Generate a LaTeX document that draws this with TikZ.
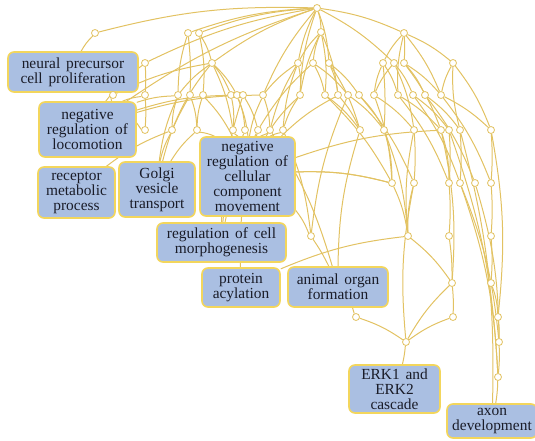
\documentclass[tikz,border=0pt]{standalone}
\usepackage{fontspec}
\setmainfont{Liberation Serif}[WordSpace=1.5]
\definecolor{edgecol}{RGB}{226,194,98}
\definecolor{boxfill}{RGB}{170,191,226}
\definecolor{boxline}{RGB}{243,214,92}
\definecolor{termtext}{RGB}{26,28,40}
\pgfdeclarelayer{edges}
\pgfsetlayers{edges,main}
\tikzset{
  dot/.style={circle, draw=edgecol, fill=white, inner sep=0pt, minimum size=7pt, line width=0.8pt},
  term/.style={draw=boxline, fill=boxfill, rounded corners=6pt, line width=1.6pt,
    align=center, inner sep=0pt, text=termtext,
    font=\fontsize{15.4pt}{14.9pt}\selectfont},
  link/.style={draw=edgecol, line width=1pt},
}
\begin{document}
\begin{tikzpicture}[x=1pt, y=-1pt]
\useasboundingbox (0,0) rectangle (535,441);

% GO term boxes
\node[term, minimum width=130pt, minimum height=40pt] (npc)   at (73,72)    {neural precursor\\cell proliferation};
\node[term, minimum width=97pt,  minimum height=55pt] (loc)   at (87.5,129.5) {negative\\regulation of\\locomotion};
\node[term, minimum width=77pt,  minimum height=51pt] (rmp)   at (76.5,192.5) {receptor\\metabolic\\process};
\node[term, minimum width=76pt,  minimum height=55pt] (golgi) at (157,189.5) {Golgi\\vesicle\\transport};
\node[term, minimum width=95pt,  minimum height=79pt] (nrccm) at (247.5,176.5) {negative\\regulation of\\cellular\\component\\movement};
\node[term, minimum width=129pt, minimum height=39pt] (rcm)   at (221.5,242.5) {regulation of cell\\morphogenesis};
\node[term, minimum width=78pt,  minimum height=39pt] (pa)    at (241,287.5) {protein\\acylation};
\node[term, minimum width=100pt, minimum height=40pt] (aof)   at (338,287)  {animal organ\\formation};
\node[term, minimum width=91pt,  minimum height=48pt] (erk)   at (394.5,389) {ERK1 and\\ERK2\\cascade};
\node[term, minimum width=90pt,  minimum height=34pt] (axon)  at (492,421)  {axon\\development};

% intermediate terms
\foreach \n/\x/\y in {
  r/317/8,
  a1/95/33, a2/188/33, a3/199/33, a4/321/32, a5/404/33,
  b1/145/63, b2/212/63, b3/298/63, b4/313/63, b5/329/63, b6/383/63, b7/394/63, b8/404/63, b9/453/63,
  c1/113/95, c2/145/95, c3/178/95, c4/190/95, c5/203/95, c6/231/95, c7/237/95, c8/243/95, c9/263/95,
  c10/300/95, c11/325/95, c12/338/95, c13/348/95, c14/359/95, c15/374/95, c16/398/95, c17/413/95,
  c18/425/95, c19/441/95,
  d1/145/130, d2/172/130, d3/197/130, d4/233/130, d5/245/130, d6/258/130, d7/270/130, d8/283/130,
  d9/360/130, d10/384/130, d11/414/130, d12/441/130, d13/449/130, d14/460/130, d15/491/130,
  e1/392/183, e2/414/183, e3/449/183, e4/460/183, e5/475/183, e6/491/183,
  f1/311/236, f2/408/236, f3/449/236, f4/491/236,
  g1/452/283, g2/491/283,
  h1/356/317, h2/453/317, h3/498/317, h4/499/342, h5/406/342, h6/498/377}
  \node[dot] (\n) at (\x,\y) {};

\begin{pgfonlayer}{edges}
% links running down to the left
\foreach \u/\v in {
  r/a1, r/a2, r/a3, r/b1, r/b2, r/b3, r/c9, r/c10, r/loc,
  a1/npc, a2/c3, a4/b3, a4/b4, a4/c10, a5/b6, a5/c16,
  b1/loc, b2/c3, b2/d2, b2/c1, b3/c9, b3/d7, b3/d8, b4/d6, b6/c15, b7/c15, b9/c19, b9/d14,
  c2/loc, c3/loc, c3/d2, c3/golgi, c4/golgi, c5/d3, c6/loc, c8/rcm, c9/nrccm, c9/loc,
  c10/d8, c10/nrccm, c12/nrccm, c13/f1,
  d1/loc, d2/golgi, d2/rmp, d3/golgi, d5/rcm, d6/rcm, d6/pa, d7/nrccm, d8/nrccm, d9/aof,
  d11/f2, e1/nrccm, e2/f2, e2/h5, f1/nrccm, f2/pa, g1/h5, h2/h5, d12/nrccm}
  \draw[link] (\u) to[bend right=8] (\v);
% links running down to the right
\foreach \u/\v in {
  r/a4, r/a5, r/b5, r/b7,
  a3/b2, a3/c5, a4/c11, a4/c12, a5/b9, a5/c19,
  b2/c6, b2/c7, b2/d4, b3/c10, b4/c11, b4/c13, b5/c12, b5/c14, b5/d9,
  b6/c16, b7/c17, b7/d11, b8/c18, b8/c19, b8/d12, b9/d15,
  c4/d3, c5/nrccm, c6/d4, c7/d5, c7/nrccm, c8/d6, c9/d7,
  c11/d9, c11/e1, c12/d9, c13/d10, c14/d10, c14/e2, c15/d11, c15/e1,
  c16/d12, c16/e3, c17/d13, c17/e4, c18/d14, c18/e5, c19/d15, c19/e6,
  d3/nrccm, d7/aof, d8/f1, d10/e1, d10/f2, d12/e3, d12/g1, d13/h6, d14/axon,
  e1/f2, e4/h6, e5/h4, e4/h4, f2/g1, g2/h3, h1/h5, d15/h3, nrccm/e1}
  \draw[link] (\u) to[bend left=8] (\v);
% links running almost straight down
\foreach \u/\v in {
  npc/c1, c1/loc, b1/c2, c2/d1, a2/c4, a5/b8, b6/d10, d4/nrccm, d11/e2, d13/e3, d14/e4,
  d15/e6, e3/f3, e6/f4, f3/g1, f4/g2, g1/h2, h3/h4, h4/h6, h6/axon, aof/h1, h5/erk, f1/aof}
  \draw[link] (\u) to[bend left=4] (\v);
\end{pgfonlayer}
\end{tikzpicture}
\end{document}
